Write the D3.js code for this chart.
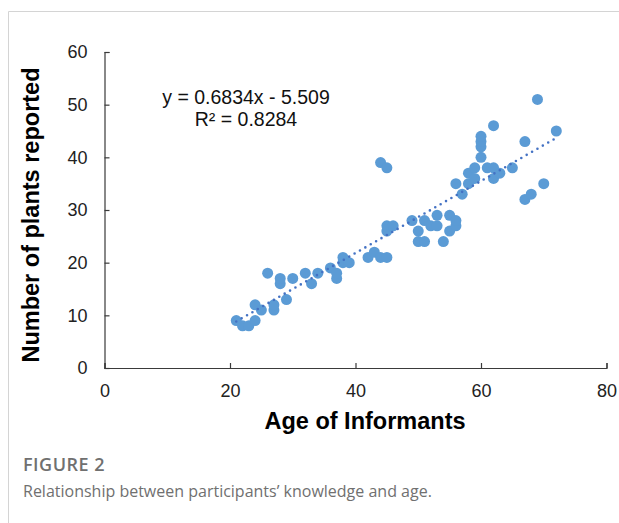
<!DOCTYPE html>
<html>
<head>
<meta charset="utf-8">
<script src="https://cdn.jsdelivr.net/npm/d3@7/dist/d3.min.js"></script>
<style>
  html, body { margin: 0; padding: 0; background: #fff; }
  svg { display: block; }
</style>
</head>
<body>
<svg id="chart" width="619" height="523"></svg>
<script>
// Informant ages and the number of plants each one reported
const ages = [21, 22, 23, 24, 24, 25, 26, 27, 27, 28, 28, 29, 30, 32, 33, 34, 36, 37, 37, 38,
  38, 39, 42, 43, 44, 45, 44, 45, 45, 45, 46, 49, 50, 50, 51, 51, 52, 53, 53, 54,
  55, 55, 56, 56, 56, 57, 58, 58, 59, 59, 60, 60, 60, 60, 61, 62, 62, 62, 63, 65,
  67, 67, 68, 69, 70, 72];
const plants = [9, 8, 8, 9, 12, 11, 18, 11, 12, 16, 17, 13, 17, 18, 16, 18, 19, 17, 18, 20,
  21, 20, 21, 22, 21, 21, 39, 38, 26, 27, 27, 28, 26, 24, 24, 28, 27, 27, 29, 24,
  29, 26, 27, 28, 35, 33, 35, 37, 38, 36, 40, 42, 43, 44, 38, 38, 36, 46, 37, 38,
  43, 32, 33, 51, 35, 45];

// Linear fit reported for the data
const slope = 0.6834;
const intercept = -5.509;
const rSquared = 0.8284;

const xTicks = [0, 20, 40, 60, 80];
const yTicks = [0, 10, 20, 30, 40, 50, 60];

const svg = d3.select("#chart");
const font = "'Liberation Sans', Arial, sans-serif";

// light frame around the figure
svg.append("path")
  .attr("d", "M8.5,523 L8.5,11.5 L619,11.5")
  .attr("fill", "none")
  .attr("stroke", "#d4d4d4")
  .attr("stroke-width", 1);

const x = d3.scaleLinear().domain([0, 80]).range([104.5, 606.5]);
const y = d3.scaleLinear().domain([0, 60]).range([368, 52]);

// axes with inward ticks
const xAxis = svg.append("g")
  .attr("transform", `translate(0,${y(0)})`)
  .call(d3.axisBottom(x).tickValues(xTicks).tickSizeInner(-5).tickSizeOuter(-5).tickPadding(16));
const yAxis = svg.append("g")
  .attr("transform", `translate(${x(0)},0)`)
  .call(d3.axisLeft(y).tickValues(yTicks).tickSizeInner(-5).tickSizeOuter(-5).tickPadding(17));

[xAxis, yAxis].forEach(g => {
  g.select(".domain").attr("stroke", "#3a3a3a").attr("stroke-width", 1.2);
  g.selectAll(".tick line").attr("stroke", "#3a3a3a").attr("stroke-width", 1.2);
  g.selectAll(".tick text")
    .attr("fill", "#222")
    .style("font-family", font)
    .style("font-size", "18px");
});

// data points
svg.append("g")
  .selectAll("circle")
  .data(ages.map((a, i) => [a, plants[i]]))
  .join("circle")
  .attr("cx", d => x(d[0]))
  .attr("cy", d => y(d[1]))
  .attr("r", 5.5)
  .attr("fill", "#5b9bd5");

// dotted trend line over the observed age range
const [xMin, xMax] = d3.extent(ages);
svg.append("line")
  .attr("x1", x(xMin)).attr("y1", y(slope * xMin + intercept))
  .attr("x2", x(xMax)).attr("y2", y(slope * xMax + intercept))
  .attr("stroke", "#4472c4")
  .attr("stroke-width", 2.6)
  .attr("stroke-linecap", "round")
  .attr("stroke-dasharray", "0,6.2");

// fit equation
const eq = svg.append("text")
  .attr("text-anchor", "middle")
  .attr("fill", "#111")
  .style("font-family", font)
  .style("font-size", "19.5px");
eq.append("tspan").attr("x", 246).attr("y", 104)
  .text(`y = ${slope}x - ${Math.abs(intercept)}`);
eq.append("tspan").attr("x", 246).attr("y", 126)
  .text(`R² = ${rSquared}`);

// axis titles
svg.append("text")
  .attr("x", 365).attr("y", 429)
  .attr("text-anchor", "middle")
  .attr("fill", "#000")
  .style("font-family", font)
  .style("font-size", "23.5px")
  .style("font-weight", "bold")
  .text("Age of Informants");

svg.append("text")
  .attr("transform", "translate(39,215) rotate(-90)")
  .attr("text-anchor", "middle")
  .attr("fill", "#000")
  .style("font-family", font)
  .style("font-size", "23.5px")
  .style("font-weight", "bold")
  .text("Number of plants reported");

// caption
svg.append("text")
  .attr("x", 23).attr("y", 471)
  .attr("fill", "#707070")
  .style("font-family", "'Open Sans', 'Noto Sans', sans-serif")
  .style("font-size", "18px")
  .style("font-weight", "600")
  .style("letter-spacing", "0.5px")
  .text("FIGURE 2");

svg.append("text")
  .attr("x", 23).attr("y", 497)
  .attr("fill", "#707070")
  .style("font-family", "'Open Sans', 'Noto Sans', sans-serif")
  .style("font-size", "16px")
  .text("Relationship between participants’ knowledge and age.");
</script>
</body>
</html>
